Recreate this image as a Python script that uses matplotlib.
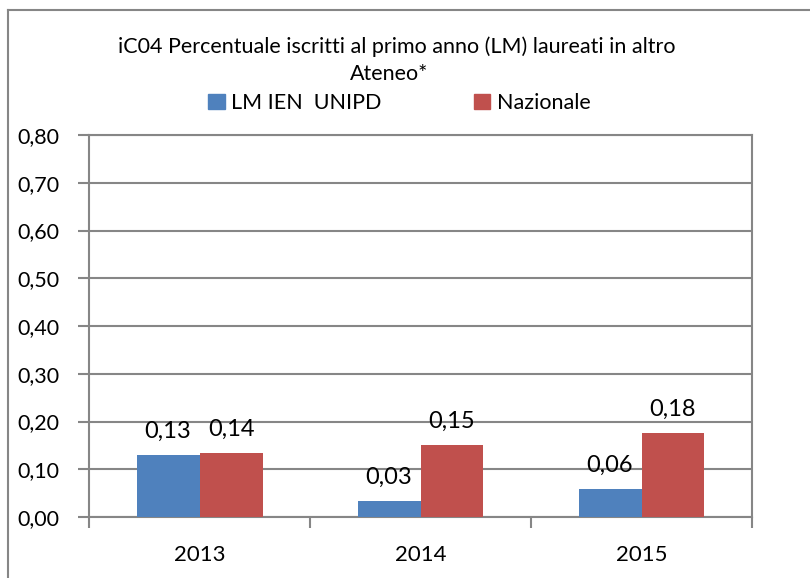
import numpy as np
import matplotlib
matplotlib.use("Agg")
import matplotlib.pyplot as plt
from matplotlib.patches import Patch
from matplotlib.lines import Line2D

anni = ["2013", "2014", "2015"]
unipd = [0.130, 0.034, 0.059]
nazionale = [0.135, 0.151, 0.176]
etichette_unipd = ["0,13", "0,03", "0,06"]
etichette_naz = ["0,14", "0,15", "0,18"]
yticks = [0.0, 0.1, 0.2, 0.3, 0.4, 0.5, 0.6, 0.7, 0.8]

blu = "#4F81BD"
rosso = "#C0504D"
grigio = "#868686"

plt.rcParams["font.family"] = ["Lato", "DejaVu Sans"]

fig = plt.figure(figsize=(8.1, 5.78), dpi=100)
ax = fig.add_axes([0.1099, 0.1055, 0.8185, 0.6609])

x = np.arange(len(anni))
w = 0.285
b1 = ax.bar(x - w / 2, unipd, w, color=blu, zorder=3)
b2 = ax.bar(x + w / 2, nazionale, w, color=rosso, zorder=3)

for barre, etichette in [(b1, etichette_unipd), (b2, etichette_naz)]:
    for rect, lab in zip(barre, etichette):
        ax.annotate(lab, (rect.get_x() + rect.get_width() / 2, rect.get_height()),
                    xytext=(0, 17), textcoords="offset points",
                    ha="center", va="center", fontsize=17)

ax.set_xlim(-0.5, 2.5)
ax.set_ylim(0, 0.8)
ax.set_yticks(yticks)
ax.set_yticklabels([f"{v:.2f}".replace(".", ",") for v in yticks], fontsize=15.5)
ax.yaxis.grid(True, color=grigio, linewidth=1.5, zorder=0)

ax.set_xticks(x)
ax.set_xticklabels(anni, fontsize=16)
ax.tick_params(axis="x", length=0, pad=20)
ax.set_xticks([-0.5, 0.5, 1.5, 2.5], minor=True)
ax.tick_params(axis="x", which="minor", length=8, width=1.5, color=grigio)
ax.tick_params(axis="y", length=8, width=1.5, color=grigio, pad=13)

for s in ax.spines.values():
    s.set_color(grigio)
    s.set_linewidth(1.5)

# titolo su due righe
fig.text(0.49, 1 - 47 / 578, "iC04 Percentuale iscritti al primo anno (LM) laureati in altro",
         ha="center", va="center", fontsize=15.5)
fig.text(0.48, 1 - 74 / 578, "Ateneo*", ha="center", va="center", fontsize=15.5)

# legenda
handles = [Patch(color=blu), Patch(color=rosso)]
fig.legend(handles, ["LM IEN  UNIPD", "Nazionale"], loc="center",
           bbox_to_anchor=(0.493, 1 - 103 / 578), ncol=2, frameon=False,
           prop={"size": 15.5}, handlelength=0.75, handleheight=0.75,
           handletextpad=0.3, columnspacing=4.3)

# cornice esterna (solo lati sinistro e superiore visibili)
fig.add_artist(Line2D([8 / 810, 8 / 810], [0, 1 - 10 / 578], color=grigio, lw=1.5))
fig.add_artist(Line2D([8 / 810, 1], [1 - 10 / 578, 1 - 10 / 578], color=grigio, lw=1.5))

fig.savefig("out.png", dpi=100)
